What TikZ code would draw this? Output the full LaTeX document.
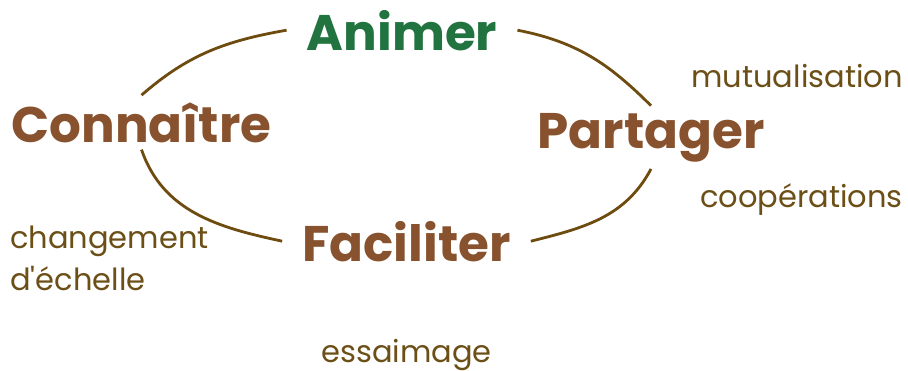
\documentclass[tikz,border=0pt]{standalone}
\usepackage{fontspec}
\setmainfont{Poppins}
\usepackage{xcolor}
\usepackage{tikz}
\definecolor{vert}{HTML}{21733F}
\definecolor{brun}{HTML}{87522D}
\definecolor{olive}{HTML}{6B4F16}
\definecolor{trait}{HTML}{6E4B0F}

\begin{document}
\begin{tikzpicture}[x=1pt,y=1pt]
	\tikzstyle{every node}+=[inner sep=0pt]
	\tikzstyle{verbe}=[font=\bfseries\fontsize{50}{56}\selectfont, text=brun, inner xsep=20pt, inner ysep=7pt, anchor=base]
	\tikzstyle{mot}=[font=\fontsize{30.5}{42}\selectfont, text=olive]
	\tikzstyle{boucle}=[trait, line width=2.8pt]
	\useasboundingbox (0,0) rectangle (908,-370);
	\node [verbe, text=vert] (animer) at (402,-50) {Animer};
	\node [verbe] (connaitre) at (141.5,-142) {Connaître};
	\node [verbe] (partager) at (651,-148) {Partager};
	\node [verbe] (faciliter) at (406.5,-261) {Faciliter};
	\node [mot, anchor=base east] (mutualisation) at (903,-87) {mutualisation};
	\node [mot, anchor=base east] (cooperations) at (903,-207) {coopérations};
	\node [mot, anchor=base west, align=left] (echelle) at (10,-290) {changement\\d\textquotesingle échelle};
	\node [mot, anchor=base] (essaimage) at (406.5,-362) {essaimage};
	\draw [boucle] (connaitre.north) to [out=41,in=190] (animer.west);
	\draw [boucle] (animer.east) to [out=-11,in=135] (partager.north);
	\draw [boucle] (partager.south) to [out=242,in=14] (faciliter.east);
	\draw [boucle] (faciliter.west) to [out=168,in=289] (connaitre.south);
\end{tikzpicture}
\end{document}
